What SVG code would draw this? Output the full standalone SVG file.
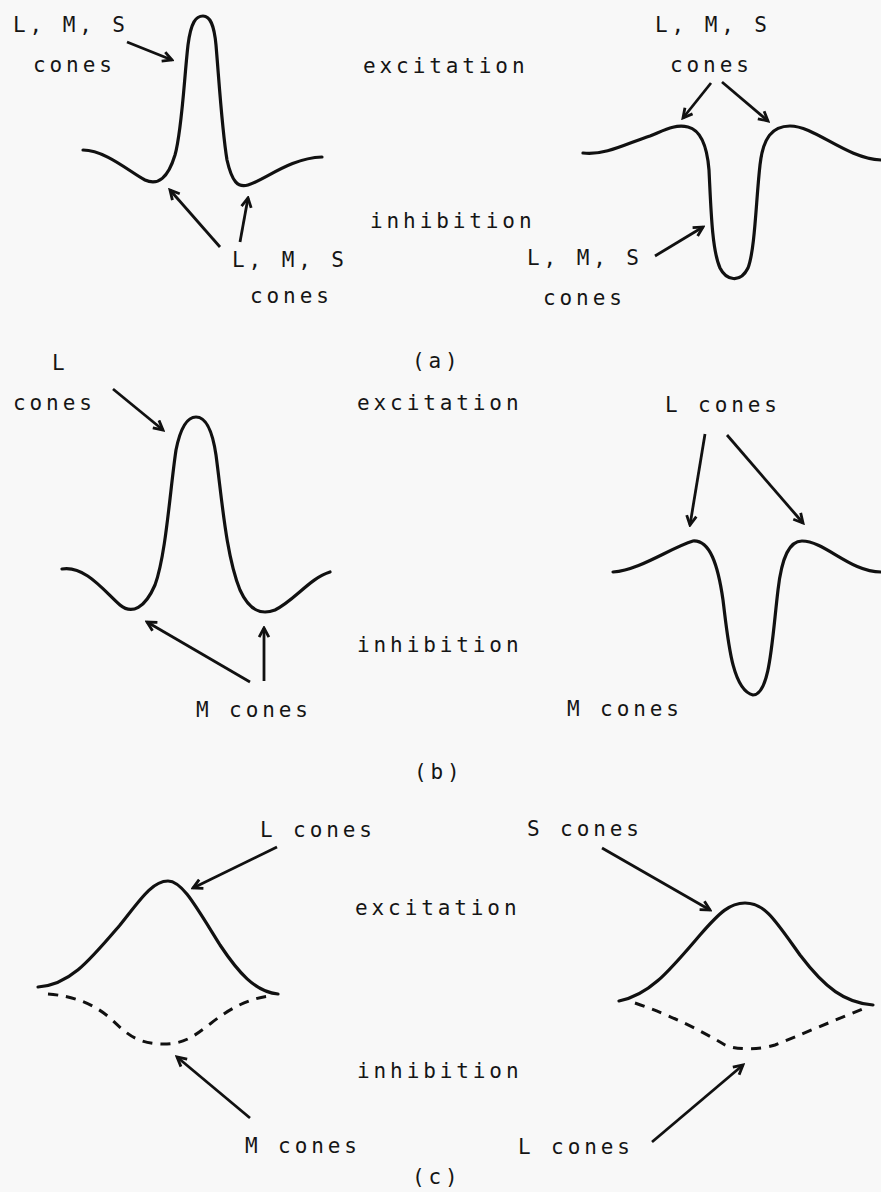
<svg xmlns="http://www.w3.org/2000/svg" width="881" height="1192" viewBox="0 0 881 1192">
<style>
.t{font-family:"DejaVu Sans Mono","Liberation Mono",monospace;font-size:21px;letter-spacing:3.9px;fill:#151515}
.c{fill:none;stroke:#111;stroke-width:3.2;stroke-linecap:round;stroke-linejoin:round}
.d{fill:none;stroke:#111;stroke-width:3;stroke-dasharray:10 8}
.a{fill:none;stroke:#111;stroke-width:2.8;marker-end:url(#ah)}
</style>
<defs>
<marker id="ah" viewBox="0 0 12 12" refX="10" refY="6" markerWidth="13" markerHeight="13" markerUnits="userSpaceOnUse" orient="auto">
<path d="M1.5,1.5 L10,6 L1.5,10.5" fill="none" stroke="#111" stroke-width="2.6" stroke-linejoin="miter"/>
</marker>
</defs>
<rect width="881" height="1192" fill="#f8f8f8"/>

<g id="panel-a">
<g id="a-left-curve"><path class="c" d="M83,150 C105,150 130,172 145,180 C158,186 168,178 175,155 C182,130 184,80 188,45 C191,22 196,16 203,16 C210,16 214,24 216,45 C219,80 222,130 227,160 C232,182 238,188 248,185 C265,180 290,158 322,157"/></g>
<g id="a-right-curve"><path class="c" d="M583,153 C605,156 630,142 650,136 C665,130 675,124 688,127 C700,130 707,145 709,170 C711,210 712,250 720,268 C726,280 740,284 748,268 C755,250 756,200 760,165 C763,138 772,126 790,126 C815,126 845,158 881,160"/></g>
<g id="a-label-tl"><text class="t" x="13" y="32">L, M, S</text><text class="t" x="33" y="72">cones</text></g>
<g id="a-excitation"><text class="t" x="363" y="73">excitation</text></g>
<g id="a-label-tr"><text class="t" x="655" y="32">L, M, S</text><text class="t" x="670" y="72">cones</text></g>
<g id="a-inhibition"><text class="t" x="370" y="228">inhibition</text></g>
<g id="a-label-bl"><text class="t" x="232" y="267">L, M, S</text><text class="t" x="250" y="303">cones</text></g>
<g id="a-label-br"><text class="t" x="527" y="265">L, M, S</text><text class="t" x="543" y="305">cones</text></g>
<g id="a-caption"><text class="t" x="412" y="368">(a)</text></g>
</g>

<g id="panel-b">
<g id="b-left-curve"><path class="c" d="M62,569 C85,565 105,592 120,605 C132,615 145,608 155,585 C166,555 170,490 176,450 C181,425 188,417 196,417 C205,417 212,428 216,455 C222,500 226,555 240,590 C250,612 262,615 275,610 C295,600 310,578 330,572"/></g>
<g id="b-right-curve"><path class="c" d="M613,572 C640,570 670,548 693,541 C710,540 718,565 723,600 C728,640 732,690 753,695 C770,695 772,640 778,590 C782,555 790,541 802,541 C825,541 850,572 881,572"/></g>
<g id="b-label-tl"><text class="t" x="52" y="370">L</text><text class="t" x="13" y="410">cones</text></g>
<g id="b-excitation"><text class="t" x="357" y="410">excitation</text></g>
<g id="b-label-tr"><text class="t" x="665" y="412">L cones</text></g>
<g id="b-inhibition"><text class="t" x="357" y="652">inhibition</text></g>
<g id="b-label-bl"><text class="t" x="196" y="717">M cones</text></g>
<g id="b-label-br"><text class="t" x="567" y="716">M cones</text></g>
<g id="b-caption"><text class="t" x="414" y="779">(b)</text></g>
</g>

<g id="panel-c">
<g id="c-left-curve"><path class="c" d="M38,987 C70,985 90,960 120,925 C140,900 152,881 168,881 C182,881 195,905 220,945 C238,972 255,992 278,994"/><path class="d" d="M48,994 C75,996 95,1005 110,1018 C125,1032 135,1043 160,1044 C185,1045 195,1035 210,1024 C230,1008 250,998 270,996"/></g>
<g id="c-right-curve"><path class="c" d="M619,1001 C650,995 670,970 700,935 C720,912 730,903 745,903 C765,903 775,920 800,955 C825,988 845,1003 873,1005"/><path class="d" d="M635,1003 C670,1015 700,1030 725,1045 C735,1050 760,1050 775,1045 C800,1035 835,1020 865,1008"/></g>
<g id="c-label-tl"><text class="t" x="260" y="837">L cones</text></g>
<g id="c-label-tr"><text class="t" x="527" y="836">S cones</text></g>
<g id="c-excitation"><text class="t" x="355" y="915">excitation</text></g>
<g id="c-inhibition"><text class="t" x="357" y="1078">inhibition</text></g>
<g id="c-label-bl"><text class="t" x="245" y="1153">M cones</text></g>
<g id="c-label-br"><text class="t" x="518" y="1154">L cones</text></g>
<g id="c-caption"><text class="t" x="412" y="1184">(c)</text></g>
</g>

<g id="connectors">
<line class="a" x1="127" y1="42" x2="172" y2="60"/>
<line class="a" x1="220" y1="247" x2="170" y2="190"/>
<line class="a" x1="240" y1="242" x2="248" y2="198"/>
<line class="a" x1="711" y1="83" x2="683" y2="118"/>
<line class="a" x1="722" y1="82" x2="768" y2="121"/>
<line class="a" x1="655" y1="256" x2="703" y2="227"/>
<line class="a" x1="113" y1="389" x2="163" y2="430"/>
<line class="a" x1="250" y1="682" x2="147" y2="622"/>
<line class="a" x1="264" y1="681" x2="264" y2="628"/>
<line class="a" x1="705" y1="434" x2="690" y2="525"/>
<line class="a" x1="727" y1="435" x2="803" y2="523"/>
<line class="a" x1="277" y1="847" x2="193" y2="888"/>
<line class="a" x1="250" y1="1118" x2="177" y2="1057"/>
<line class="a" x1="602" y1="848" x2="710" y2="910"/>
<line class="a" x1="652" y1="1142" x2="743" y2="1065"/>
</g>
</svg>
